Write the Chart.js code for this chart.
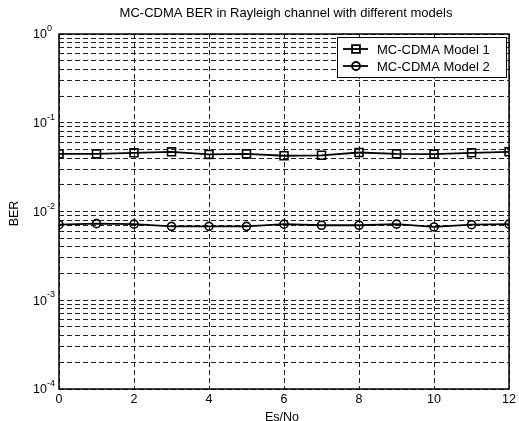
<!DOCTYPE html>
<html>
<head>
<meta charset="utf-8">
<script src="https://cdn.jsdelivr.net/npm/chart.js@4/dist/chart.umd.min.js"></script>
<style>
  html, body { margin: 0; padding: 0; background: #fff; }
  #wrap { width: 519px; height: 421px; }
</style>
</head>
<body>
<div id="wrap"><canvas id="berChart" width="519" height="421"></canvas></div>
<script>

/* ===== data ===== */

const esNo = [0, 1, 2, 3, 4, 5, 6, 7, 8, 9, 10, 11, 12]

const model1 = [0.0446, 0.0446, 0.0458, 0.0470, 0.0440, 0.0446, 0.0425,
  0.0430, 0.0462, 0.0446, 0.0443, 0.0458, 0.0470]

const model2 = [0.0071, 0.0073, 0.0072, 0.0068, 0.0068, 0.0068, 0.0072,
  0.0070, 0.0070, 0.0072, 0.0067, 0.0071, 0.0072]

const xTicks = [0, 2, 4, 6, 8, 10, 12]

const yExponents = [0, -1, -2, -3, -4]

const seriesLabels = ["MC-CDMA Model 1", "MC-CDMA Model 2"]

const titleText = "MC-CDMA BER in Rayleigh channel with different models"


/* ===== minor log ticks ===== */

const yTickValues = []
for (let e = -4; e < 0; e++) {
  for (let m = 1; m < 10; m++) {
    yTickValues.push(m * Math.pow(10, e))
  }
}
yTickValues.push(1)

const FONT = "Arial, 'Liberation Sans', sans-serif"


/* ===== matlab style decorations ===== */

const matlabPlugin = {

  id: "matlab",

  afterDraw(chart) {

    const ctx = chart.ctx
    const a = chart.chartArea
    const ys = chart.scales.y

    ctx.save()

    // box
    ctx.setLineDash([])
    ctx.strokeStyle = "#000"
    ctx.lineWidth = 1.5
    ctx.strokeRect(a.left, a.top, a.right - a.left, a.bottom - a.top)

    // y tick labels 10^n
    ctx.fillStyle = "#000"
    yExponents.forEach(function (e) {
      const y = ys.getPixelForValue(Math.pow(10, e))
      ctx.font = "12.5px " + FONT
      ctx.textAlign = "right"
      ctx.textBaseline = "middle"
      ctx.fillText("10", a.left - 12, y + 1)
      ctx.font = "9px " + FONT
      ctx.textAlign = "left"
      ctx.textBaseline = "alphabetic"
      ctx.fillText(String(e), a.left - 12, y - 3)
    })

    // title
    ctx.font = "13px " + FONT
    ctx.textAlign = "center"
    ctx.textBaseline = "middle"
    ctx.fillText(titleText, (a.left + a.right) / 2 + 2, 13)

    // x axis title
    ctx.font = "12.5px " + FONT
    ctx.fillText("Es/No", (a.left + a.right) / 2 - 2, 418)

    // y axis title
    ctx.save()
    ctx.translate(15, (a.top + a.bottom) / 2 + 2)
    ctx.rotate(-Math.PI / 2)
    ctx.fillText("BER", 0, 0)
    ctx.restore()

    // legend
    const lx = 337, ly = 37, lw = 169, lh = 40
    ctx.fillStyle = "#fff"
    ctx.fillRect(lx, ly, lw, lh)
    ctx.strokeStyle = "#000"
    ctx.lineWidth = 1
    ctx.strokeRect(lx + 0.5, ly + 0.5, lw, lh)

    chart.data.datasets.forEach(function (ds, i) {
      const cy = 49 + i * 17
      ctx.strokeStyle = "#000"
      ctx.lineWidth = 1.8
      ctx.beginPath()
      ctx.moveTo(343, cy)
      ctx.lineTo(368, cy)
      ctx.stroke()
      ctx.fillStyle = "rgba(0,0,0,0)"
      Chart.helpers.drawPoint(ctx, {
        pointStyle: ds.pointStyle,
        radius: ds.pointRadius,
        borderWidth: 1.6
      }, 356, cy)
      ctx.fillStyle = "#000"
      ctx.font = "13px " + FONT
      ctx.textAlign = "left"
      ctx.textBaseline = "middle"
      ctx.fillText(ds.label, 377, cy + 1)
    })

    ctx.restore()
  }

}


/* ===== chart ===== */

const ctx = document.getElementById("berChart").getContext("2d")

new Chart(ctx, {

  type: "line",

  data: {

    labels: esNo,

    datasets: [

      {
        label: seriesLabels[0],
        data: esNo.map(function (x, i) { return { x: x, y: model1[i] } }),
        borderColor: "#000",
        backgroundColor: "rgba(0,0,0,0)",
        borderWidth: 1.8,
        pointStyle: "rect",
        pointRadius: 5.6,
        pointBorderWidth: 1.6,
        pointBorderColor: "#000",
        pointBackgroundColor: "rgba(0,0,0,0)",
        tension: 0
      },

      {
        label: seriesLabels[1],
        data: esNo.map(function (x, i) { return { x: x, y: model2[i] } }),
        borderColor: "#000",
        backgroundColor: "rgba(0,0,0,0)",
        borderWidth: 1.8,
        pointStyle: "circle",
        pointRadius: 4,
        pointBorderWidth: 1.6,
        pointBorderColor: "#000",
        pointBackgroundColor: "rgba(0,0,0,0)",
        tension: 0
      }

    ]

  },

  options: {

    responsive: false,
    animation: false,
    devicePixelRatio: 1,

    layout: {
      padding: { left: 0, right: 8, top: 34, bottom: 0 }
    },

    plugins: {
      legend: { display: false },
      title: { display: false },
      tooltip: { enabled: false }
    },

    scales: {

      x: {
        type: "linear",
        min: 0,
        max: 12,
        afterBuildTicks: function (scale) {
          scale.ticks = xTicks.map(function (v) { return { value: v } })
        },
        afterFit: function (scale) { scale.height = 32 },
        ticks: {
          color: "#000",
          font: { size: 12.5, family: FONT },
          padding: 3,
          maxRotation: 0,
          autoSkip: false
        },
        grid: {
          color: "#222",
          lineWidth: 1,
          drawTicks: false
        },
        border: { display: false, dash: [5, 3] }
      },

      y: {
        type: "logarithmic",
        min: 0.0001,
        max: 1,
        afterBuildTicks: function (scale) {
          scale.ticks = yTickValues.map(function (v) { return { value: v } })
        },
        afterFit: function (scale) { scale.width = 59 },
        ticks: {
          display: false,
          autoSkip: false
        },
        grid: {
          color: "#222",
          lineWidth: 1,
          drawTicks: false
        },
        border: { display: false, dash: [5, 3] }
      }

    }

  },

  plugins: [matlabPlugin]

})

</script>
</body>
</html>
